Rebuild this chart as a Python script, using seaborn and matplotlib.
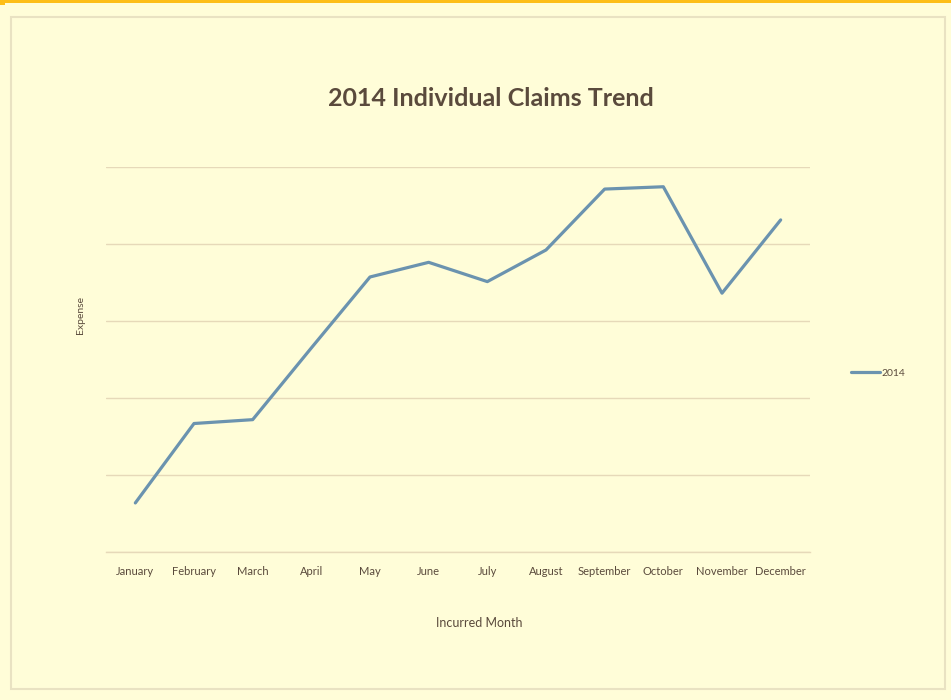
import matplotlib
matplotlib.use("Agg")
import matplotlib.pyplot as plt
from matplotlib.patches import Rectangle
import seaborn as sns
import pandas as pd

months = ["January", "February", "March", "April", "May", "June", "July",
          "August", "September", "October", "November", "December"]
expense_2014 = [0.64, 1.67, 1.72, 2.65, 3.57, 3.76, 3.51, 3.92, 4.71, 4.74, 3.36, 4.31]
series_name = "2014"

df = pd.DataFrame({"Incurred Month": months, "Expense": expense_2014,
                   "Year": [series_name] * len(months)})

sns.set_theme(style="white")
plt.rcParams["font.family"] = ["Lato", "DejaVu Sans"]

bg = "#FFFDD8"
text_col = "#5A4A3C"
grid_col = "#E6D9B9"
line_col = "#6B93AF"

fig = plt.figure(figsize=(9.51, 7.0), dpi=100, facecolor=bg)
W, H = 951, 700

# top orange bar and small corner
fig.patches.append(Rectangle((0, 1 - 3 / H), 1, 3 / H, transform=fig.transFigure,
                             facecolor="#FDBE17", edgecolor="none", zorder=0))
fig.patches.append(Rectangle((0, 1 - 5 / H), 5 / W, 5 / H, transform=fig.transFigure,
                             facecolor="#FDBE17", edgecolor="none", zorder=0))
# inner chart-area border
fig.patches.append(Rectangle((11 / W, (H - 689) / H), (945 - 11) / W, (689 - 17) / H,
                             transform=fig.transFigure, facecolor="none",
                             edgecolor="#E9E2C2", linewidth=1.5, zorder=0))

ax = fig.add_axes([106 / W, (H - 552.3) / H, 704 / W, 385.6 / H])
ax.set_facecolor(bg)

sns.lineplot(data=df, x="Incurred Month", y="Expense", hue="Year", sort=False,
             palette=[line_col], linewidth=2.3, ax=ax)

ax.set_xlim(-0.5, len(months) - 0.5)
ax.set_ylim(0, 5)
ax.set_yticks([0, 1, 2, 3, 4, 5])
ax.set_yticklabels([])
ax.yaxis.grid(True, color=grid_col, linewidth=1.0)
ax.set_axisbelow(True)
for s in ["left", "right", "top"]:
    ax.spines[s].set_visible(False)
ax.spines["bottom"].set_color(grid_col)
ax.spines["bottom"].set_linewidth(1.0)
ax.tick_params(axis="both", length=0)
ax.tick_params(axis="x", labelsize=8, labelcolor=text_col, pad=10)

ax.set_xlabel("Incurred Month", fontsize=9, color=text_col)
ax.xaxis.set_label_coords((479 - 106) / 704, -(623 - 552.3) / 385.6)
ax.xaxis.label.set_va("center")
ax.set_ylabel("Expense", fontsize=7.5, color=text_col)
ax.yaxis.set_label_coords((80 - 106) / 704, (552.3 - 315) / 385.6)
ax.yaxis.label.set_va("center")

fig.text(491 / W, 1 - 99 / H, "2014 Individual Claims Trend", ha="center", va="center",
         fontsize=18, fontweight="bold", color=text_col)

leg = ax.legend(loc="center left", bbox_to_anchor=(1.045, 0.465), frameon=False,
                fontsize=7.5, handlelength=2.8, handletextpad=0.1, labelcolor=text_col)
for l in leg.get_lines():
    l.set_linewidth(2.3)

fig.savefig("out.png", dpi=100, facecolor=bg)
